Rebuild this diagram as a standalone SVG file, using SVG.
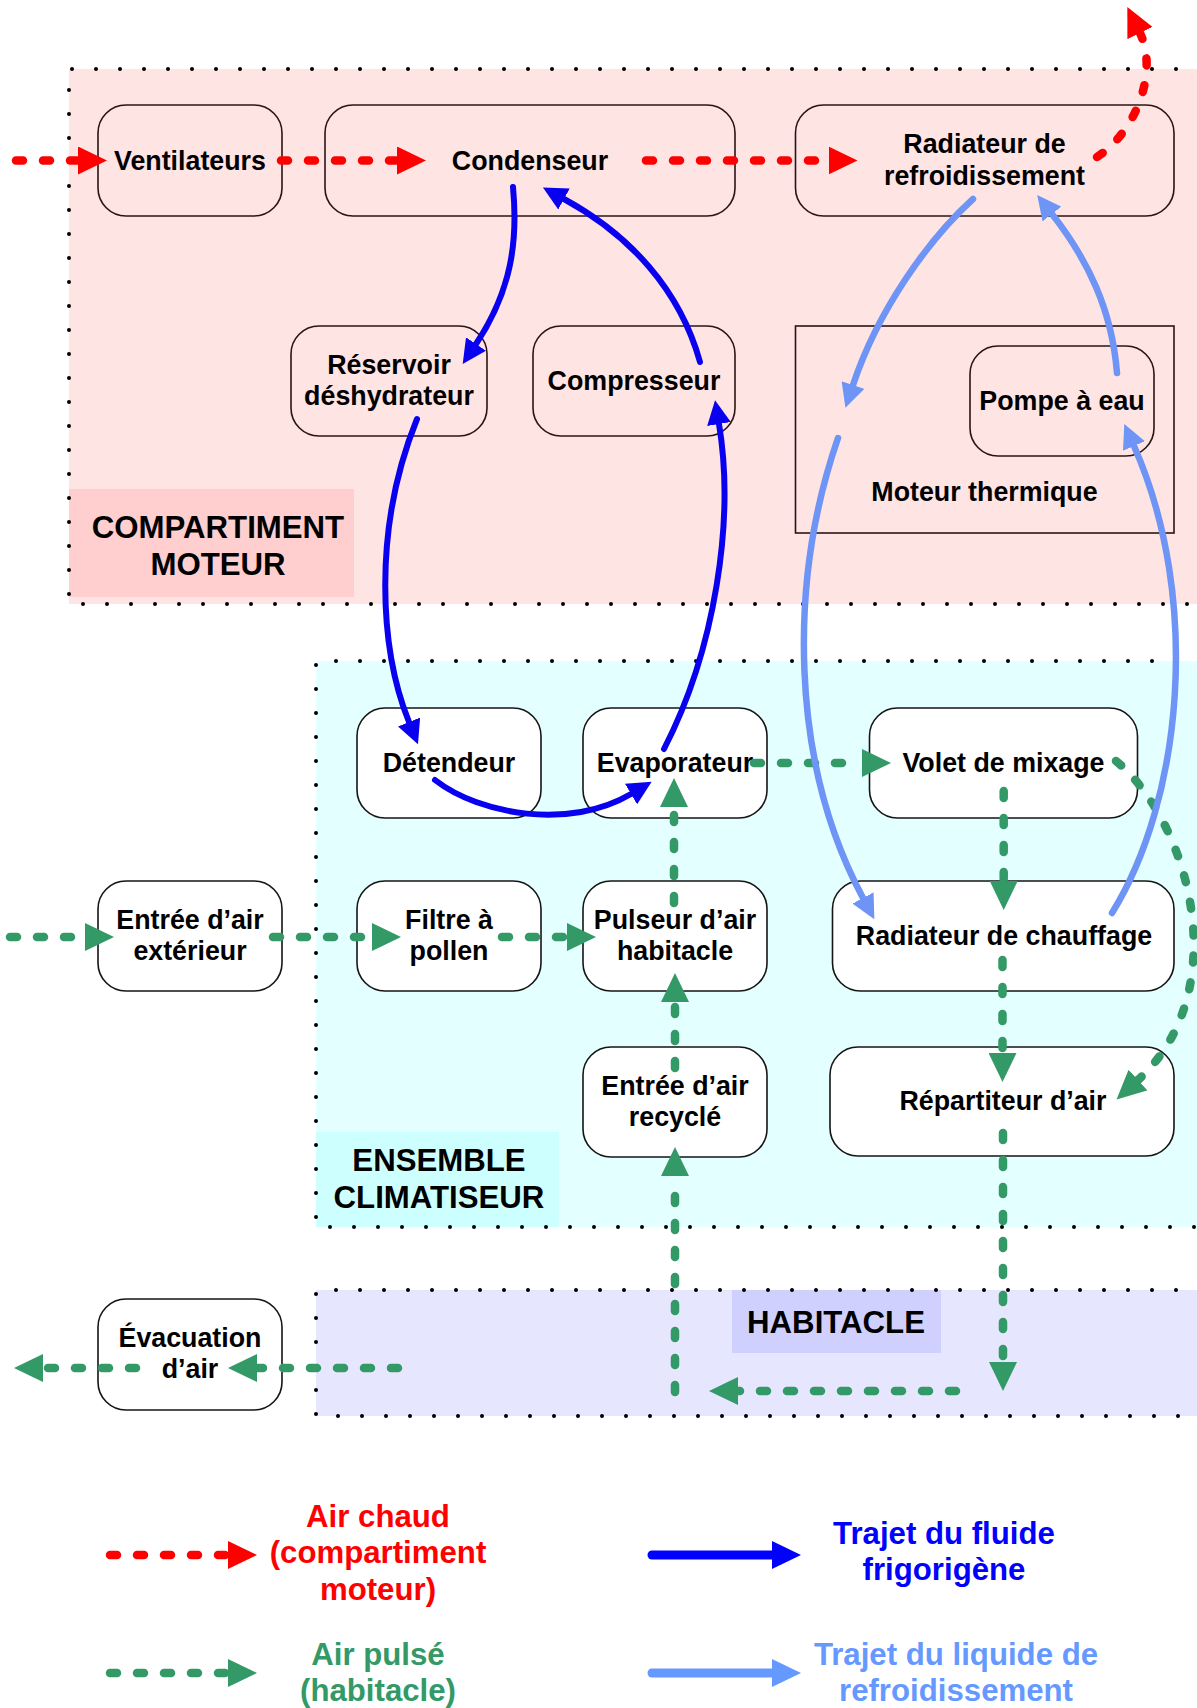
<svg xmlns="http://www.w3.org/2000/svg" width="1197" height="1708" viewBox="0 0 1197 1708">
<style>
.t{font-family:"Liberation Sans",Arial,Helvetica,sans-serif;font-weight:bold;font-size:26.8px;text-anchor:middle;fill:#000}
.big{font-size:31.2px}
.b{fill:#fff;stroke:#151515;stroke-width:1.6}
.bp{fill:none;stroke:#2a1515;stroke-width:1.6}
.dots{fill:none;stroke:#000;stroke-width:4;stroke-linecap:round;stroke-dasharray:0 24}
.red{fill:none;stroke:#f00;stroke-width:8.5;stroke-linecap:round;stroke-dasharray:7 20}
.grn{fill:none;stroke:#339966;stroke-width:8.5;stroke-linecap:round;stroke-dasharray:7 20}
.blu{fill:none;stroke:#0a00f0;stroke-width:6;stroke-linecap:round}
.lbl{fill:none;stroke:#6e94f6;stroke-width:6.5;stroke-linecap:round}
</style>
<defs>
<marker id="aR" markerUnits="userSpaceOnUse" viewBox="0 0 30 28" markerWidth="30" markerHeight="28" refX="0" refY="14" orient="auto"><path d="M0,0 L29,14 L0,28z" fill="#f00"/></marker>
<marker id="aG" markerUnits="userSpaceOnUse" viewBox="0 0 30 28" markerWidth="30" markerHeight="28" refX="0" refY="14" orient="auto"><path d="M0,0 L29,14 L0,28z" fill="#339966"/></marker>
<marker id="aB" markerUnits="userSpaceOnUse" viewBox="0 0 25 24" markerWidth="25" markerHeight="24" refX="0" refY="12" orient="auto"><path d="M0,0 L24,12 L0,24z" fill="#0a00f0"/></marker>
<marker id="aL" markerUnits="userSpaceOnUse" viewBox="0 0 25 24" markerWidth="25" markerHeight="24" refX="0" refY="12" orient="auto"><path d="M0,0 L24,12 L0,24z" fill="#6e94f6"/></marker>
<marker id="aB2" markerUnits="userSpaceOnUse" viewBox="0 0 30 28" markerWidth="30" markerHeight="28" refX="0" refY="14" orient="auto"><path d="M0,0 L29,14 L0,28z" fill="#00f"/></marker>
<marker id="aL2" markerUnits="userSpaceOnUse" viewBox="0 0 30 28" markerWidth="30" markerHeight="28" refX="0" refY="14" orient="auto"><path d="M0,0 L29,14 L0,28z" fill="#6699ff"/></marker>
</defs>

<g id="regions">
<rect x="69" y="69" width="1128" height="535" fill="#ffe4e4"/>
<rect x="69" y="489" width="285" height="108" fill="#ffcece"/>
<path class="dots" d="M1200,69 H69 V604 H1200"/>
<text class="t big" x="218" y="538">COMPARTIMENT</text>
<text class="t big" x="218" y="575">MOTEUR</text>

<rect x="316" y="661" width="881" height="566" fill="#e4ffff"/>
<rect x="316" y="1132" width="243" height="95" fill="#ceffff"/>
<path class="dots" d="M1200,661 H316 V1227 H1200"/>
<text class="t big" x="439" y="1171">ENSEMBLE</text>
<text class="t big" x="439" y="1208">CLIMATISEUR</text>

<rect x="316" y="1290" width="881" height="126" fill="#e6e6ff"/>
<rect x="732" y="1290" width="209" height="63" fill="#d0d0ff"/>
<path class="dots" d="M1200,1290 H316 V1416 H1200"/>
<text class="t big" x="836" y="1333">HABITACLE</text>
</g>

<g id="ventilateurs"><rect class="bp" x="98" y="105" width="184" height="111" rx="28"/><text class="t" x="190" y="169.5">Ventilateurs</text></g>
<g id="condenseur"><rect class="bp" x="325" y="105" width="410" height="111" rx="28"/><text class="t" x="530" y="169.5">Condenseur</text></g>
<g id="radiateur-refroidissement"><rect class="bp" x="795.5" y="105" width="378.5" height="111" rx="28"/><text class="t" x="984.5" y="153">Radiateur de</text><text class="t" x="984.5" y="185">refroidissement</text></g>
<g id="reservoir"><rect class="bp" x="291" y="326" width="196" height="110" rx="28"/><text class="t" x="389" y="373.5">Réservoir</text><text class="t" x="389" y="405">déshydrateur</text></g>
<g id="compresseur"><rect class="bp" x="533" y="326" width="202" height="110" rx="28"/><text class="t" x="634" y="389.5">Compresseur</text></g>
<g id="moteur-thermique"><rect class="bp" x="795.5" y="326" width="378.5" height="207"/><text class="t" x="984.5" y="501">Moteur thermique</text></g>
<g id="pompe"><rect class="bp" x="970" y="346" width="184" height="110" rx="28"/><text class="t" x="1062" y="409.5">Pompe à eau</text></g>

<g id="detendeur"><rect class="b" x="357" y="708" width="184" height="110" rx="28"/><text class="t" x="449" y="771.5">Détendeur</text></g>
<g id="evaporateur"><rect class="b" x="583" y="708" width="184" height="110" rx="28"/><text class="t" x="675" y="771.5">Evaporateur</text></g>
<g id="volet"><rect class="b" x="869.5" y="708" width="268" height="110" rx="28"/><text class="t" x="1003.5" y="771.5">Volet de mixage</text></g>
<g id="entree-exterieur"><rect class="b" x="98" y="881" width="184" height="110" rx="28"/><text class="t" x="190" y="928.5">Entrée d’air</text><text class="t" x="190" y="960">extérieur</text></g>
<g id="filtre"><rect class="b" x="357" y="881" width="184" height="110" rx="28"/><text class="t" x="449" y="928.5">Filtre à</text><text class="t" x="449" y="960">pollen</text></g>
<g id="pulseur"><rect class="b" x="583" y="881" width="184" height="110" rx="28"/><text class="t" x="675" y="928.5">Pulseur d’air</text><text class="t" x="675" y="960">habitacle</text></g>
<g id="radiateur-chauffage"><rect class="b" x="832.5" y="881" width="341.5" height="110" rx="28"/><text class="t" x="1004" y="944.5">Radiateur de chauffage</text></g>
<g id="entree-recycle"><rect class="b" x="583" y="1047" width="184" height="110" rx="28"/><text class="t" x="675" y="1094.5">Entrée d’air</text><text class="t" x="675" y="1126">recyclé</text></g>
<g id="repartiteur"><rect class="b" x="830" y="1047" width="344" height="109" rx="28"/><text class="t" x="1003" y="1110">Répartiteur d’air</text></g>
<g id="evacuation"><rect class="b" x="98" y="1299" width="184" height="111" rx="28"/><text class="t" x="190" y="1347">Évacuation</text><text class="t" x="190" y="1378">d’air</text></g>

<g id="connectors">
<path class="red" d="M16,160.5 H78" marker-end="url(#aR)"/>
<path class="red" d="M281,160.5 H397" marker-end="url(#aR)"/>
<path class="red" d="M646,160.5 H828.5" marker-end="url(#aR)"/>
<path class="red" d="M1097,157 C1138,130 1158,70 1140,33" marker-end="url(#aR)"/>

<path class="grn" d="M10,937 H85" marker-end="url(#aG)"/>
<path class="grn" d="M273,937 H372" marker-end="url(#aG)"/>
<path class="grn" d="M502,937 H567" marker-end="url(#aG)"/>
<path class="grn" d="M674,903 V807" marker-end="url(#aG)"/>
<path class="grn" d="M675,1068 V1002" marker-end="url(#aG)"/>
<path class="grn" d="M675,1392 V1176" marker-end="url(#aG)"/>
<path class="grn" d="M754,763 H862" marker-end="url(#aG)"/>
<path class="grn" d="M1003.7,791 V881" marker-end="url(#aG)"/>
<path class="grn" d="M1002.5,960 V1053" marker-end="url(#aG)"/>
<path class="grn" d="M1116,761 C1188,820 1237,990 1138,1080" marker-end="url(#aG)"/>
<path class="grn" d="M1003,1133 V1362" marker-end="url(#aG)"/>
<path class="grn" d="M956,1391 H738" marker-end="url(#aG)"/>
<path class="grn" d="M398,1368 H257" marker-end="url(#aG)"/>
<path class="grn" d="M136,1368 H43" marker-end="url(#aG)"/>

<path class="blu" d="M513,187 C518,240 512,290 476,344" marker-end="url(#aB)"/>
<path class="blu" d="M700,362 C680,290 630,235 564,199" marker-end="url(#aB)"/>
<path class="blu" d="M417,419 C372,530 380,650 409,722" marker-end="url(#aB)"/>
<path class="blu" d="M435,780 C480,815 570,830 631,794" marker-end="url(#aB)"/>
<path class="blu" d="M664,749 C715,650 735,520 719,424" marker-end="url(#aB)"/>

<path class="lbl" d="M973,199 C928,240 878,310 853,385" marker-end="url(#aL)"/>
<path class="lbl" d="M838,438 C789,580 789,760 863,898" marker-end="url(#aL)"/>
<path class="lbl" d="M1112,913 C1182,800 1202,600 1134,446" marker-end="url(#aL)"/>
<path class="lbl" d="M1117,373 C1112,310 1088,260 1052,214" marker-end="url(#aL)"/>
</g>

<g id="legend">
<path class="red" d="M110,1555 H228" marker-end="url(#aR)"/>
<text class="t big" x="378" y="1527" style="fill:#f00">Air chaud</text>
<text class="t big" x="378" y="1563" style="fill:#f00">(compartiment</text>
<text class="t big" x="378" y="1600" style="fill:#f00">moteur)</text>
<path class="grn" d="M110,1673 H228" marker-end="url(#aG)"/>
<text class="t big" x="378" y="1665" style="fill:#339966">Air pulsé</text>
<text class="t big" x="378" y="1701" style="fill:#339966">(habitacle)</text>
<path d="M652,1555 H772" fill="none" stroke="#00f" stroke-width="9" stroke-linecap="round" marker-end="url(#aB2)"/>
<text class="t big" x="944" y="1544" style="fill:#00f">Trajet du fluide</text>
<text class="t big" x="944" y="1580" style="fill:#00f">frigorigène</text>
<path d="M652,1673 H772" fill="none" stroke="#6699ff" stroke-width="9" stroke-linecap="round" marker-end="url(#aL2)"/>
<text class="t big" x="956" y="1665" style="fill:#6699ff">Trajet du liquide de</text>
<text class="t big" x="956" y="1701" style="fill:#6699ff">refroidissement</text>
</g>
</svg>
